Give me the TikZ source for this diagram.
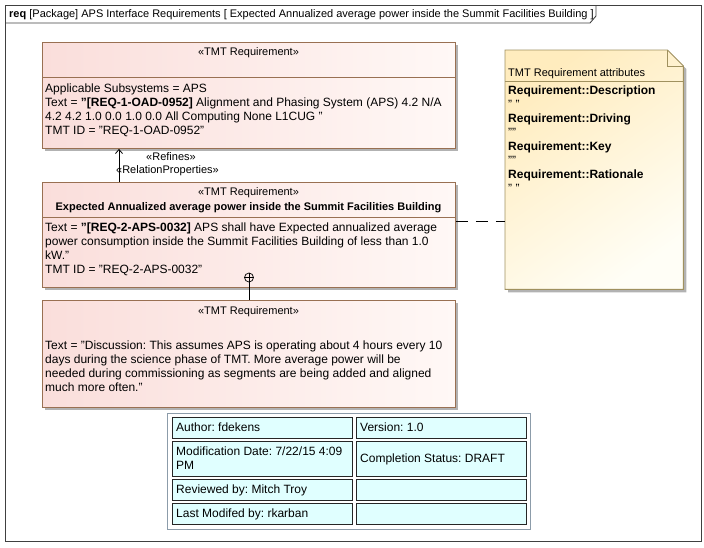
\documentclass[tikz,border=0pt]{standalone}
\usepackage{fontspec}
\setmainfont{Liberation Sans}
\usetikzlibrary{shadows,arrows.meta}
\frenchspacing
\definecolor{reqborder}{RGB}{153,112,82}
\definecolor{reqL}{RGB}{250,222,219}
\definecolor{reqR}{RGB}{255,248,246}
\definecolor{noteborder}{RGB}{160,145,95}
\definecolor{noteL}{RGB}{255,236,190}
\definecolor{noteR}{RGB}{255,254,246}
\definecolor{cellfill}{RGB}{224,255,255}
\definecolor{tabborder}{RGB}{140,156,170}
\definecolor{framecol}{RGB}{64,64,64}
\definecolor{shadowcol}{RGB}{178,178,178}
\begin{document}
\begin{tikzpicture}[x=1pt,y=-1pt,
  t12/.style={inner sep=0pt, anchor=base west, font=\fontsize{12}{14}\selectfont},
  t11/.style={inner sep=0pt, anchor=base, font=\fontsize{11}{13}\selectfont},
  reqbox/.style={rectangle, draw=reqborder, line width=0.9pt, left color=reqL, right color=reqR,
    anchor=north west, inner sep=0pt,
    drop shadow={shadow xshift=3pt, shadow yshift=-3pt, fill=shadowcol, opacity=1}},
  reqline/.style={draw=reqborder, line width=0.9pt},
  cellbox/.style={rectangle, draw=black!85, fill=cellfill, line width=0.8pt, anchor=north west, inner sep=0pt},
  connector/.style={draw=black, line width=0.8pt}]
\useasboundingbox (0,0) rectangle (704,547);
% frame
\node[rectangle, draw=framecol, line width=1pt, anchor=north west, inner sep=0pt,
  minimum width=696pt, minimum height=536pt] (frame) at (5,5) {};
\coordinate (tabb) at (0,23);
\coordinate (tabr) at (596,0);
\draw[draw=framecol, line width=0.9pt] (frame.west |- tabb) -- (590,23) -- (tabr |- 0,16) -- (tabr |- frame.north);
\node[t12, font=\fontsize{11}{13}\selectfont] (title) at (9,17.9) {\textbf{req} [Package] APS Interface Requirements [ Expected Annualized average power inside the Summit Facilities Building ]};

% box 1
\node[reqbox, minimum width=413pt, minimum height=106pt] (b1) at (42,42) {};
\coordinate (s1) at (0,77);
\draw[reqline] (b1.west |- s1) -- (b1.east |- s1);
\node[t11] (st1) at (248.5,55.9) {«TMT Requirement»};
\node[t12] (b1l1) at (45,92.3) {Applicable Subsystems = APS};
\node[t12] (b1l2) at (45,106.3) {Text = \textbf{"[REQ-1-OAD-0952]} Alignment and Phasing System (APS) 4.2 N/A};
\node[t12] (b1l3) at (45,120.3) {4.2 4.2 1.0 0.0 1.0 0.0 All Computing None L1CUG "};
\node[t12] (b1l4) at (45,134.3) {TMT ID = "REQ-1-OAD-0952"};

% box 2
\node[reqbox, minimum width=413pt, minimum height=105pt] (b2) at (42,182) {};
\coordinate (s2) at (0,217);
\draw[reqline] (b2.west |- s2) -- (b2.east |- s2);
\node[t11] (st2) at (248.5,195.9) {«TMT Requirement»};
\node[t11, font=\fontsize{11}{13}\selectfont\bfseries] (nm2) at (248.5,210.9) {Expected Annualized average power inside the Summit Facilities Building};
\node[t12] (b2l1) at (45,231.3) {Text = \textbf{"[REQ-2-APS-0032]} APS shall have Expected annualized average};
\node[t12] (b2l2) at (45,245.3) {power consumption inside the Summit Facilities Building of less than 1.0};
\node[t12] (b2l3) at (45,259.3) {kW."};
\node[t12] (b2l4) at (45,273.3) {TMT ID = "REQ-2-APS-0032"};

% box 3
\node[reqbox, minimum width=413pt, minimum height=107pt] (b3) at (42,300) {};
\node[t11] (st3) at (248.5,314.9) {«TMT Requirement»};
\node[t12] (b3l1) at (45,349.3) {Text = "Discussion: This assumes APS is operating about 4 hours every 10};
\node[t12] (b3l2) at (45,363.3) {days during the science phase of TMT. More average power will be};
\node[t12] (b3l3) at (45,377.3) {needed during commissioning as segments are being added and aligned};
\node[t12] (b3l4) at (45,391.3) {much more often."};

% containment
\node[circle, draw=black, line width=0.7pt, minimum size=9pt, inner sep=0pt] (cp) at (249,277.5) {};
\draw[connector] (cp.north) -- (cp.south);
\draw[connector] (cp.west) -- (cp.east);
\draw[connector] (cp.south) -- (cp.south |- b3.north);

% refine
\coordinate (ax) at (119,0);
\draw[connector, -{Straight Barb[length=4pt,width=7pt]}] (ax |- b2.north) -- (ax |- b1.south);
\node[t11] (lref) at (171,160.9) {«Refines»};
\node[t11] (lrel) at (167.5,173.9) {«RelationProperties»};

% note
\node[rectangle, anchor=north west, inner sep=0pt, minimum width=178pt, minimum height=239pt] (note) at (505,50) {};
\path[draw=noteborder, line width=0.9pt, top color=noteL, bottom color=noteR, shading angle=35,
  drop shadow={shadow xshift=3pt, shadow yshift=-3pt, fill=shadowcol, opacity=1}]
  (note.north west) -- ([xshift=-16pt]note.north east) -- ([yshift=-16pt]note.north east)
  -- (note.south east) -- (note.south west) -- cycle;
\draw[draw=noteborder, line width=0.9pt] ([xshift=-16pt]note.north east) -- ([xshift=-16pt,yshift=-16pt]note.north east) -- ([yshift=-16pt]note.north east);
\coordinate (s4) at (0,81);
\draw[draw=noteborder, line width=0.9pt] (note.west |- s4) -- (note.east |- s4);
\node[t12, font=\fontsize{11}{13}\selectfont] (nt) at (508,76.9) {TMT Requirement attributes};
\node[t12, font=\fontsize{12}{14}\selectfont\bfseries] (na1) at (508,94.3) {Requirement::Description};
\node[t12] (nv1) at (508,108.3) {" "};
\node[t12, font=\fontsize{12}{14}\selectfont\bfseries] (na2) at (508,122.3) {Requirement::Driving};
\node[t12] (nv2) at (508,136.3) {""};
\node[t12, font=\fontsize{12}{14}\selectfont\bfseries] (na3) at (508,150.3) {Requirement::Key};
\node[t12] (nv3) at (508,164.3) {""};
\node[t12, font=\fontsize{12}{14}\selectfont\bfseries] (na4) at (508,178.3) {Requirement::Rationale};
\node[t12] (nv4) at (508,192.3) {" "};

% anchor link
\coordinate (dy) at (0,221);
\draw[connector, dash pattern=on 12pt off 8pt] (b2.east |- dy) -- (note.west |- dy);

% table
\node[rectangle, draw=tabborder, fill=white, line width=0.9pt, anchor=north west, inner sep=0pt,
  minimum width=363pt, minimum height=116pt] (tab) at (167,413) {};
\node[cellbox, minimum width=180pt, minimum height=21pt] (c11) at (172,417) {};
\node[cellbox, minimum width=170pt, minimum height=21pt] (c12) at (356,417) {};
\node[cellbox, minimum width=180pt, minimum height=35pt] (c21) at (172,441) {};
\node[cellbox, minimum width=170pt, minimum height=35pt] (c22) at (356,441) {};
\node[cellbox, minimum width=180pt, minimum height=21pt] (c31) at (172,479) {};
\node[cellbox, minimum width=170pt, minimum height=21pt] (c32) at (356,479) {};
\node[cellbox, minimum width=180pt, minimum height=21pt] (c41) at (172,503) {};
\node[cellbox, minimum width=170pt, minimum height=21pt] (c42) at (356,503) {};
\node[t12] (tx11) at (176,431.8) {Author: fdekens};
\node[t12] (tx12) at (360,431.8) {Version: 1.0};
\node[t12] (tx21a) at (176,455.3) {Modification Date: 7/22/15 4:09};
\node[t12] (tx21b) at (176,469.3) {PM};
\node[t12] (tx22) at (360,462.8) {Completion Status: DRAFT};
\node[t12] (tx31) at (176,493.8) {Reviewed by: Mitch Troy};
\node[t12] (tx41) at (176,517.8) {Last Modifed by: rkarban};
\end{tikzpicture}
\end{document}
